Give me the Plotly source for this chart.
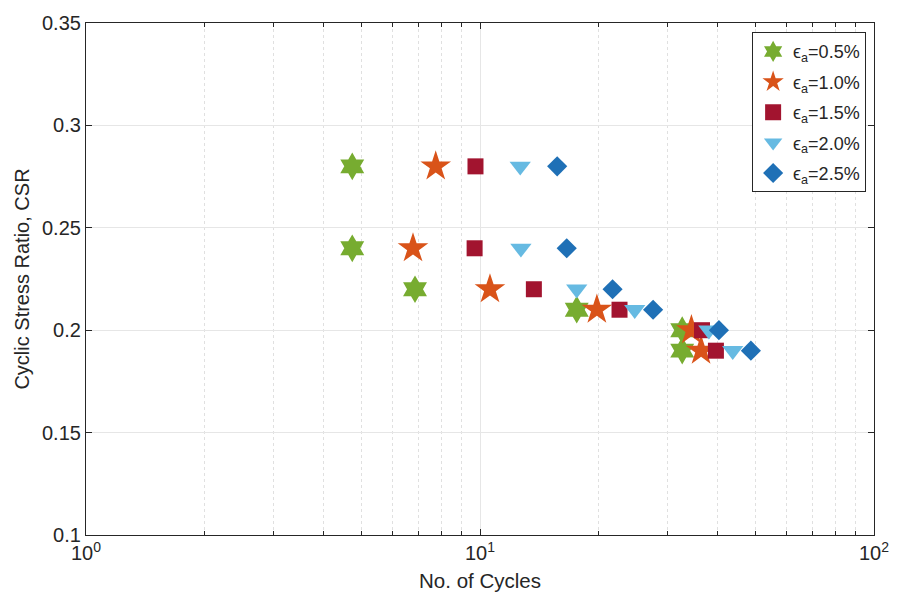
import plotly.graph_objects as go

# Cyclic stress ratio levels tested
csr = [0.28, 0.24, 0.22, 0.21, 0.20, 0.19]

# Number of cycles to reach each axial strain level
cycles_05 = [4.74, 4.74, 6.84, 17.6, 32.6, 32.6]
cycles_10 = [7.72, 6.76, 10.6, 19.8, 34.4, 36.4]
cycles_15 = [9.74, 9.69, 13.7, 22.6, 36.6, 39.7]
cycles_20 = [12.65, 12.7, 17.6, 24.7, 38.1, 43.8]
cycles_25 = [15.7, 16.6, 21.7, 27.5, 40.4, 48.7]

series = [
    ("ϵ<sub>a</sub>=0.5%", cycles_05, "hexagram", "#77AC30", 21),
    ("ϵ<sub>a</sub>=1.0%", cycles_10, "star", "#D95319", 23),
    ("ϵ<sub>a</sub>=1.5%", cycles_15, "square", "#A2142F", 16),
    ("ϵ<sub>a</sub>=2.0%", cycles_20, "triangle-down", "#66BAE2", 18.5),
    ("ϵ<sub>a</sub>=2.5%", cycles_25, "diamond", "#1F70B6", 15.5),
]

x_ticks = [1, 10, 100]
x_ticktext = ["10<sup>0</sup>", "10<sup>1</sup>", "10<sup>2</sup>"]
x_minor = [2, 3, 4, 5, 6, 7, 8, 9, 20, 30, 40, 50, 60, 70, 80, 90]
y_ticks = [0.1, 0.15, 0.2, 0.25, 0.3, 0.35]

fig = go.Figure()
for i, (name, xs, sym, col, sz) in enumerate(series):
    fig.add_trace(go.Scatter(
        x=xs, y=csr, mode="markers", name=name, legendgroup=f"g{i}",
        marker=dict(symbol=sym, color=col, size=sz, line=dict(width=0)),
    ))

font = "Liberation Sans, Arial, sans-serif"
axis_col = "#262626"
fig.update_layout(
    width=901, height=605,
    margin=dict(l=86, r=22, t=15, b=70),
    plot_bgcolor="white", paper_bgcolor="white",
    font=dict(family=font, size=18, color=axis_col),
    showlegend=True,
    legend=dict(
        x=0.99, y=0.982, xanchor="right", yanchor="top",
        bordercolor=axis_col, borderwidth=1, bgcolor="white",
        font=dict(size=18, color=axis_col),
        itemsizing="trace", tracegroupgap=4,
    ),
    xaxis=dict(
        type="log", range=[0, 2],
        tickvals=x_ticks, ticktext=x_ticktext,
        ticks="inside", ticklen=6, tickcolor=axis_col,
        showline=True, linecolor=axis_col, linewidth=1.2, mirror="ticks",
        showgrid=True, gridcolor="#E6E6E6", gridwidth=1,
        zeroline=False,
        minor=dict(tickvals=x_minor, ticks="inside", ticklen=4,
                   tickcolor=axis_col, showgrid=True,
                   gridcolor="#E0E0E0", griddash="dot", gridwidth=1),
        title=dict(text="No. of Cycles", font=dict(size=20.5), standoff=10),
        tickfont=dict(size=20),
    ),
    yaxis=dict(
        range=[0.1, 0.35],
        tickvals=y_ticks, ticktext=[f"{v:g}" for v in y_ticks],
        ticks="inside", ticklen=6, tickcolor=axis_col,
        showline=True, linecolor=axis_col, linewidth=1.2, mirror="ticks",
        showgrid=True, gridcolor="#E6E6E6", gridwidth=1,
        zeroline=False,
        title=dict(text="Cyclic Stress Ratio, CSR", font=dict(size=20), standoff=6),
        tickfont=dict(size=20),
    ),
)

fig.write_html("out.html")
